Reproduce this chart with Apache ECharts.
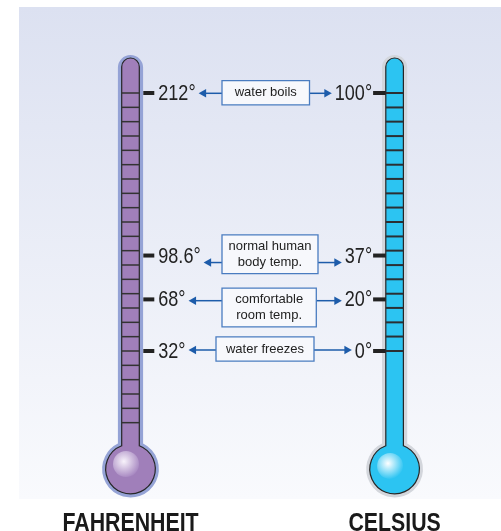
<!DOCTYPE html>
<html>
<head>
<meta charset="utf-8">
<script src="https://cdn.jsdelivr.net/npm/echarts@6/dist/echarts.min.js"></script>
<style>
html,body{margin:0;padding:0;background:#ffffff;}
#chart{width:501px;height:531px;}
</style>
</head>
<body>
<div id="chart"></div>
<script>
// ---- data ----
const scaleNames = ['FAHRENHEIT', 'CELSIUS'];
const fahrenheitTicks = [212, 202, 192, 182, 172, 162, 152, 142, 132, 122, 112, 102, 92, 82, 72, 62, 52, 42, 32, 22, 12, 2, -8, -18];
const celsiusTicks = [100, 94.4, 88.9, 83.3, 77.8, 72.2, 66.7, 61.1, 55.6, 50, 44.4, 38.9, 33.3, 27.8, 22.2, 16.7, 11.1, 5.6, 0];
const fahrenheitMarks = [212, 98.6, 68, 32];
const celsiusMarks = [100, 37, 20, 0];
const markNotes = ['water boils', 'normal human\nbody temp.', 'comfortable\nroom temp.', 'water freezes'];

// ---- styles / layout ----
const SANS = '"Liberation Sans", Arial, Helvetica, sans-serif';
const CONDENSE = 0.82;
const TUBE = { halfW: 8.8, glow: 3.8, bulbR: 24.8, bulbGlow: 3.6, topGap: 35, bulbDrop: 118 };
const scaleStyles = [
  { fill: '#a07fba', glow: '#95a3d6', hiIn: '#f8f3fb', hiOut: '#a889c2', tick: '#333333', tickW: 1.5 },
  { fill: '#2cc4f2', glow: '#d3d6dc', hiIn: '#ffffff', hiOut: '#2cc4f2', tick: '#2b2f33', tickW: 2 }
];
const noteLayout = [
  { x: 222, w: 87.5, dy: -0.2, ady: 0.3 },
  { x: 222, w: 96, dy: -1.3, ady: 7 },
  { x: 222, w: 94.3, dy: 8.1, ady: 1.3 },
  { x: 216, w: 98, dy: -2, ady: -1 }
];
const ARROW = '#1d5caa';
const BOX_BORDER = '#4a7cc0';
const LABEL_FONT_SIZE = 22;

const measureCtx = document.createElement('canvas').getContext('2d');
function textWidth(t, font) { measureCtx.font = font; return measureCtx.measureText(t).width; }
const labelFont = LABEL_FONT_SIZE + 'px ' + SANS;

function tubeRender(params, api) {
  const i = api.value(0);
  const st = scaleStyles[i];
  const p0 = api.coord([i, fahrenheitMarks[0]]);
  const p1 = api.coord([i, fahrenheitMarks[fahrenheitMarks.length - 1]]);
  const c = p0[0];
  const T = p0[1] - TUBE.topGap;
  const B = p1[1] + TUBE.bulbDrop;
  function shape(a, R, top) {
    const J = B - Math.sqrt(R * R - a * a);
    return 'M' + (c - a) + ',' + J + ' L' + (c - a) + ',' + (top + a) +
      ' A' + a + ',' + a + ' 0 0 1 ' + (c + a) + ',' + (top + a) +
      ' L' + (c + a) + ',' + J +
      ' A' + R + ',' + R + ' 0 1 1 ' + (c - a) + ',' + J + ' Z';
  }
  const hx = i === 0 ? c - 4.5 : c - 4.5;
  const hy = i === 0 ? B - 5 : B - 3;
  return {
    type: 'group',
    children: [
      { type: 'path', shape: { pathData: shape(TUBE.halfW + TUBE.glow, TUBE.bulbR + TUBE.bulbGlow, T - 3) },
        style: { fill: st.glow, stroke: null } },
      { type: 'path', shape: { pathData: shape(TUBE.halfW, TUBE.bulbR, T) },
        style: { fill: st.fill, stroke: '#262626', lineWidth: 1.2 } },
      { type: 'circle', shape: { cx: hx, cy: hy, r: 13 },
        style: { fill: { type: 'radial', x: 0.42, y: 0.4, r: 0.62,
          colorStops: [{ offset: 0, color: st.hiIn }, { offset: 1, color: st.hiOut }] } } }
    ]
  };
}

function tickRender(params, api) {
  const i = api.value(0);
  const st = scaleStyles[i];
  const p = api.coord([i, api.value(1)]);
  return { type: 'line',
    shape: { x1: p[0] - TUBE.halfW, y1: p[1], x2: p[0] + TUBE.halfW, y2: p[1] },
    style: { stroke: st.tick, lineWidth: st.tickW } };
}

function markRender(params, api) {
  const i = api.value(0);
  const v = api.value(1);
  const p = api.coord([i, v]);
  const c = p[0], y = p[1];
  const txt = v + '°';
  let dash, text;
  if (i === 0) {
    const x1 = c + TUBE.halfW + 4;
    dash = { x1: x1, y1: y, x2: x1 + 11, y2: y };
    text = { x: x1 + 15, align: 'left' };
  } else {
    const x2 = c - TUBE.halfW;
    dash = { x1: x2 - 12.7, y1: y, x2: x2, y2: y };
    text = { x: x2 - 13.7, align: 'right' };
  }
  return { type: 'group', children: [
    { type: 'line', shape: dash, style: { stroke: '#222222', lineWidth: 4 } },
    { type: 'text', x: text.x, y: y + 1, scaleX: CONDENSE,
      style: { text: txt, x: 0, y: 0, align: text.align, verticalAlign: 'middle',
      fontSize: LABEL_FONT_SIZE, fontFamily: SANS, fill: '#222222' } }
  ] };
}

function noteRender(params, api) {
  const k = api.value(2);
  const lay = noteLayout[k];
  const pf = api.coord([0, api.value(1)]);
  const pc = api.coord([1, fahrenheitMarks[k]]);
  const y = pf[1];
  const lines = markNotes[k].split('\n').length;
  const h = lines === 1 ? 24.3 : 38.8;
  const cy = y + lay.dy;
  const ay = y + lay.ady;
  const leftTip = pf[0] + TUBE.halfW + 19 + CONDENSE * textWidth(fahrenheitMarks[k] + '°', labelFont) + 3;
  const rightTip = pc[0] - TUBE.halfW - 13.7 - CONDENSE * textWidth(celsiusMarks[k] + '°', labelFont) - 3;
  const bx1 = lay.x, bx2 = lay.x + lay.w;
  const head = 7.5, hw = 4.2;
  return { type: 'group', children: [
    { type: 'line', shape: { x1: bx1, y1: ay, x2: leftTip + head - 1, y2: ay }, style: { stroke: ARROW, lineWidth: 1.5 } },
    { type: 'polygon', shape: { points: [[leftTip, ay], [leftTip + head, ay - hw], [leftTip + head, ay + hw]] }, style: { fill: ARROW } },
    { type: 'line', shape: { x1: bx2, y1: ay, x2: rightTip - head + 1, y2: ay }, style: { stroke: ARROW, lineWidth: 1.5 } },
    { type: 'polygon', shape: { points: [[rightTip, ay], [rightTip - head, ay - hw], [rightTip - head, ay + hw]] }, style: { fill: ARROW } },
    { type: 'rect', shape: { x: bx1, y: cy - h / 2, width: lay.w, height: h },
      style: { fill: '#f7f8fc', stroke: BOX_BORDER, lineWidth: 1.3 } },
    { type: 'text', style: { text: markNotes[k], x: bx1 + lay.w / 2, y: cy, align: 'center', verticalAlign: 'middle',
      fontSize: 13, fontFamily: SANS, fill: '#222222', lineHeight: 15.5 } }
  ] };
}

function nameRender(params, api) {
  const i = api.value(0);
  const p = api.coord([i, fahrenheitMarks[fahrenheitMarks.length - 1]]);
  return { type: 'text', x: p[0], y: 524, scaleX: CONDENSE,
    style: { text: scaleNames[i], x: 0, y: 0, align: 'center', verticalAlign: 'middle',
      fontSize: 26, fontWeight: 'bold', fontFamily: SANS, fill: '#1a1a1a' } };
}

const chart = echarts.init(document.getElementById('chart'), null, { renderer: 'canvas' });
chart.setOption({
  animation: false,
  backgroundColor: '#ffffff',
  graphic: [{
    type: 'rect', z: -10, silent: true,
    shape: { x: 19, y: 7, width: 482, height: 492 },
    style: { fill: { type: 'linear', x: 0, y: 0, x2: 0, y2: 1,
      colorStops: [{ offset: 0, color: '#dce1f1' }, { offset: 1, color: '#f9fafd' }] } }
  }],
  grid: { left: 130.5, right: 106.4, top: 93, bottom: 180 },
  xAxis: {
    type: 'category', data: scaleNames, boundaryGap: false,
    axisLine: { show: false }, axisTick: { show: false }, splitLine: { show: false },
    axisLabel: { show: false }
  },
  yAxis: [
    { type: 'value', min: 32, max: 212, show: false },
    { type: 'value', min: 0, max: 100, show: false }
  ],
  series: [
    { type: 'custom', name: 'tubes', clip: false, z: 1, xAxisIndex: 0, yAxisIndex: 0,
      data: scaleNames.map((n, i) => [i, 0]), renderItem: tubeRender },
    { type: 'custom', name: 'F ticks', clip: false, z: 2, yAxisIndex: 0,
      data: fahrenheitTicks.map(v => [0, v]), renderItem: tickRender },
    { type: 'custom', name: 'C ticks', clip: false, z: 2, yAxisIndex: 1,
      data: celsiusTicks.map(v => [1, v]), renderItem: tickRender },
    { type: 'custom', name: 'F marks', clip: false, z: 3, yAxisIndex: 0,
      data: fahrenheitMarks.map(v => [0, v]), renderItem: markRender },
    { type: 'custom', name: 'C marks', clip: false, z: 3, yAxisIndex: 1,
      data: celsiusMarks.map(v => [1, v]), renderItem: markRender },
    { type: 'custom', name: 'notes', clip: false, z: 3, yAxisIndex: 0,
      data: fahrenheitMarks.map((v, k) => [0, v, k]), renderItem: noteRender },
    { type: 'custom', name: 'scale names', clip: false, z: 3, yAxisIndex: 0,
      data: scaleNames.map((n, i) => [i, 0]), renderItem: nameRender }
  ]
});
</script>
</body>
</html>
